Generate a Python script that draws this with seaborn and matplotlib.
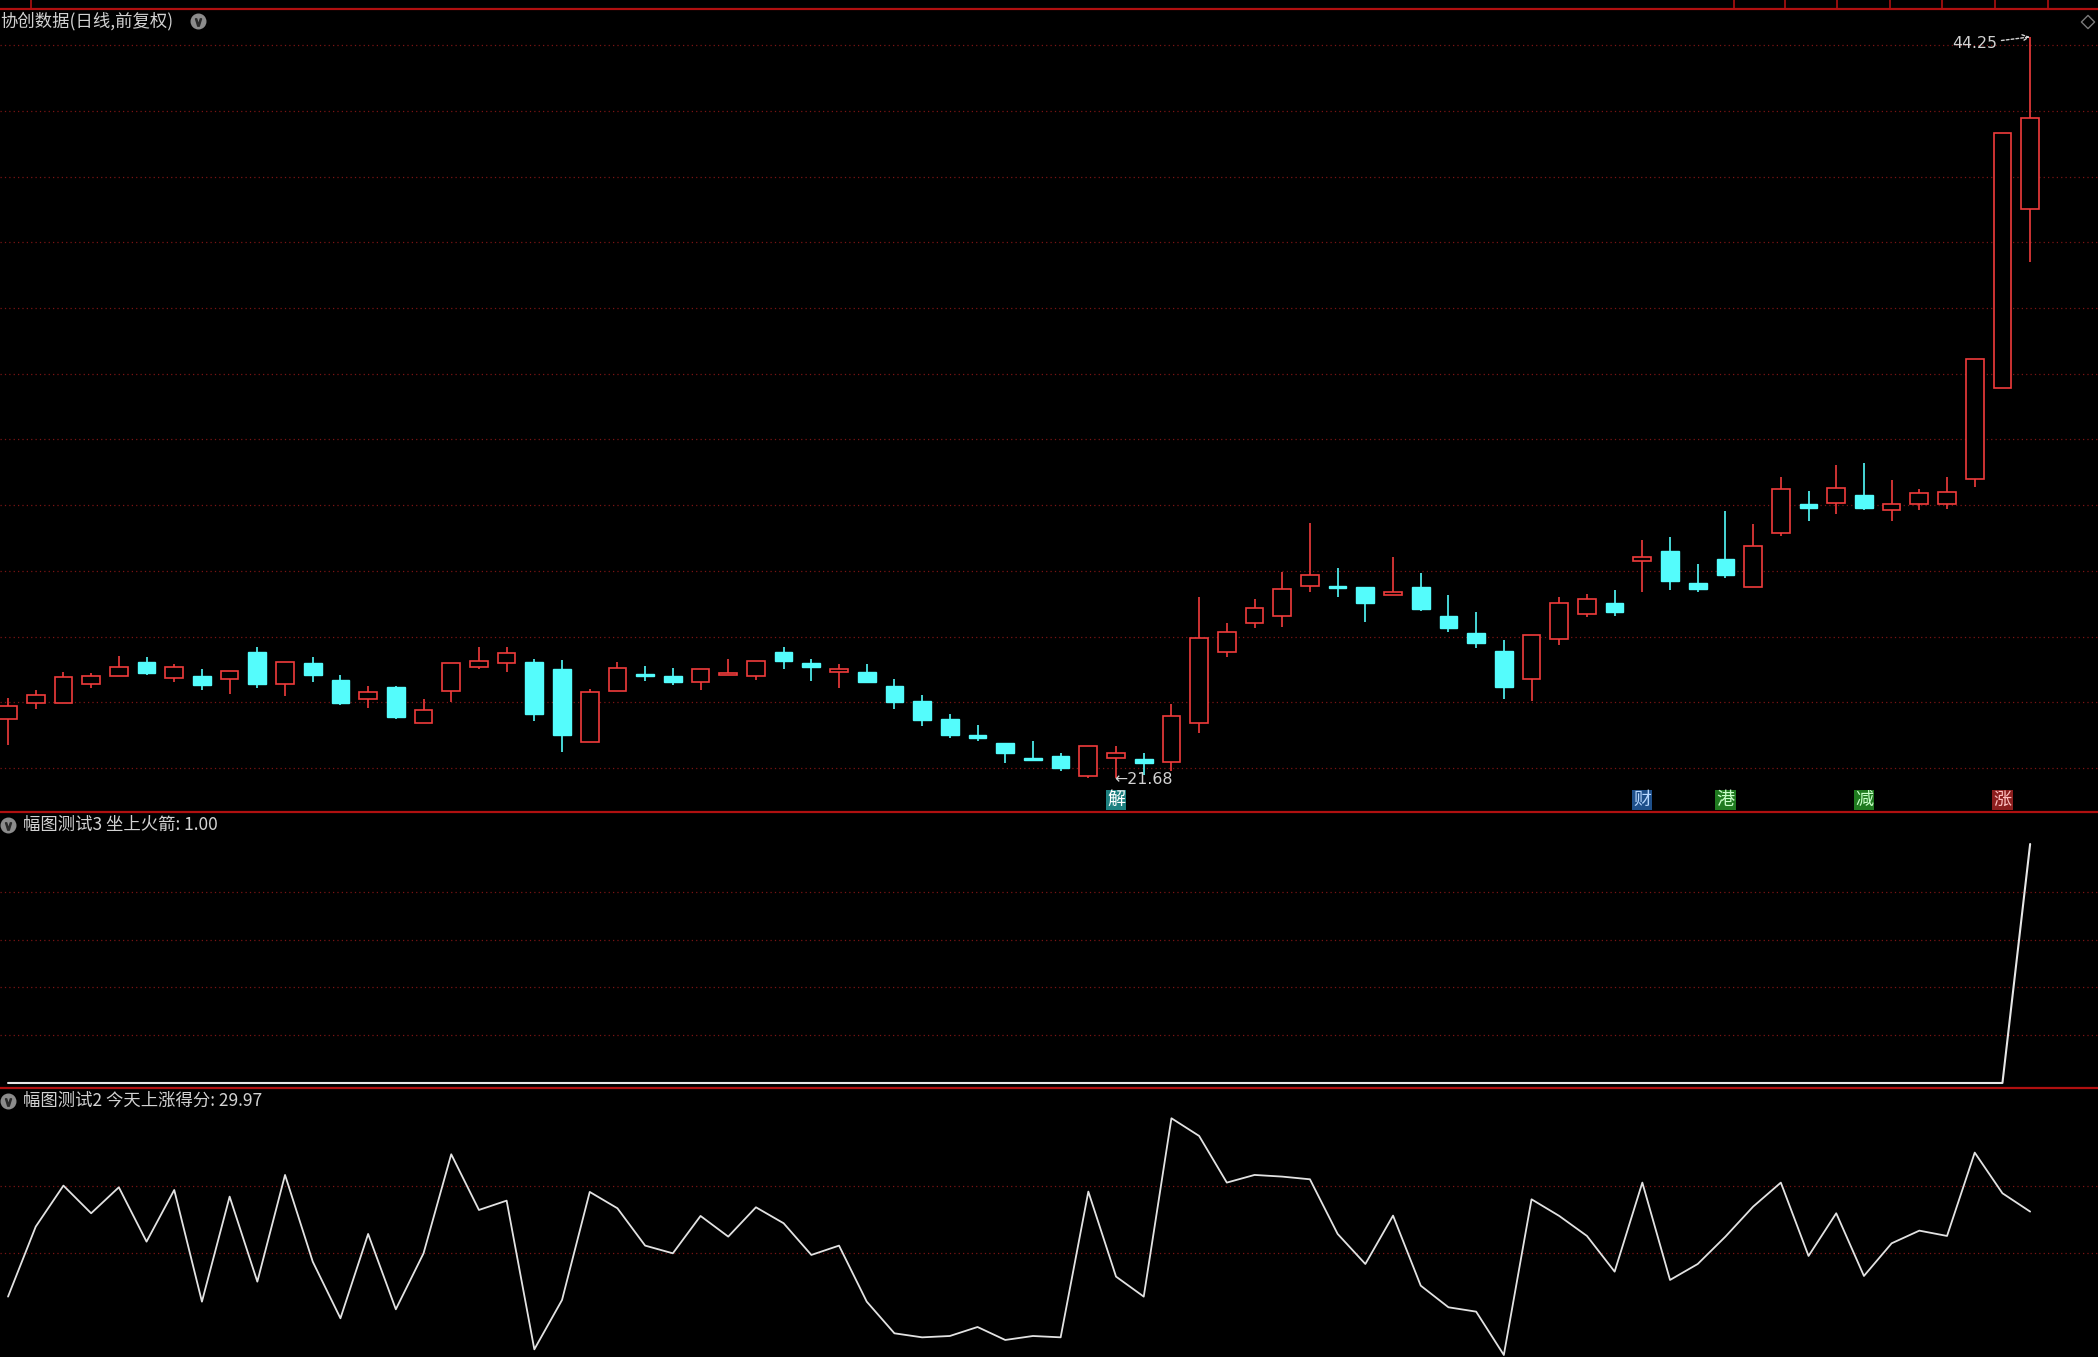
import numpy as np
import pandas as pd
import matplotlib
matplotlib.use("Agg")
import matplotlib.pyplot as plt
import matplotlib.transforms as mtransforms
import seaborn as sns

# ---- data (74 daily bars) ----
opens = [23.48, 23.97, 23.97, 24.57, 24.79, 25.23, 24.74, 24.81, 24.70, 25.54,
         24.57, 25.19, 24.68, 24.11, 24.45, 23.37, 24.34, 25.06, 25.21, 25.23,
         25.00, 22.78, 24.34, 24.86, 24.81, 24.61, 24.84, 24.79, 25.54, 25.18,
         24.93, 24.91, 24.51, 24.05, 23.50, 22.99, 22.77, 22.30, 22.37, 21.76,
         22.30, 22.27, 22.19, 23.38, 25.52, 26.42, 26.63, 27.54, 27.52, 27.52,
         27.26, 27.52, 26.64, 26.10, 25.55, 24.71, 25.93, 26.68, 27.01, 28.31,
         28.61, 27.62, 28.35, 27.51, 29.16, 30.03, 30.07, 30.32, 29.85, 30.03,
         30.02, 30.80, 33.57, 39.00]
closes = [23.90, 24.21, 24.77, 24.81, 25.08, 24.88, 25.08, 24.52, 24.95, 24.56,
          25.23, 24.83, 23.97, 24.31, 23.55, 23.77, 25.18, 25.27, 25.50, 23.64,
          23.00, 24.30, 25.03, 24.79, 24.61, 25.00, 24.90, 25.27, 25.26, 25.07,
          25.00, 24.62, 24.01, 23.47, 23.00, 22.92, 22.46, 22.23, 22.00, 22.67,
          22.46, 22.15, 23.58, 25.96, 26.13, 26.87, 27.46, 27.87, 27.49, 27.02,
          27.37, 26.84, 26.25, 25.80, 24.47, 26.06, 27.01, 27.14, 26.75, 28.43,
          27.69, 27.46, 27.87, 28.76, 30.48, 29.92, 30.52, 29.92, 30.03, 30.36,
          30.40, 34.44, 41.32, 41.78]
highs = [24.12, 24.37, 24.91, 24.88, 25.41, 25.37, 25.16, 25.00, 24.95, 25.69,
         25.23, 25.37, 24.82, 24.51, 24.50, 24.09, 25.18, 25.69, 25.69, 25.32,
         25.28, 24.40, 25.24, 25.09, 25.03, 25.00, 25.33, 25.27, 25.69, 25.32,
         25.15, 25.15, 24.72, 24.22, 23.63, 23.31, 22.77, 22.81, 22.45, 22.67,
         22.67, 22.46, 23.94, 27.20, 26.42, 27.15, 27.97, 29.45, 28.08, 27.52,
         28.43, 27.93, 27.25, 26.74, 25.88, 26.06, 27.20, 27.29, 27.43, 28.94,
         29.03, 28.22, 29.82, 29.42, 30.86, 30.44, 31.22, 31.27, 30.76, 30.50,
         30.86, 34.44, 41.32, 44.25]
lows = [22.70, 23.79, 23.97, 24.43, 24.79, 24.83, 24.61, 24.37, 24.24, 24.43,
        24.20, 24.61, 23.91, 23.82, 23.50, 23.37, 24.01, 25.01, 24.93, 23.43,
        22.50, 22.78, 24.34, 24.65, 24.52, 24.37, 24.84, 24.68, 25.00, 24.65,
        24.43, 24.62, 23.79, 23.27, 22.90, 22.81, 22.16, 22.20, 21.91, 21.70,
        21.68, 21.79, 21.92, 23.06, 25.39, 26.25, 26.28, 27.37, 27.20, 26.45,
        27.26, 26.79, 26.15, 25.64, 24.09, 24.05, 25.74, 26.61, 26.64, 27.37,
        27.41, 27.35, 27.77, 27.51, 29.06, 29.52, 29.73, 29.84, 29.52, 29.84,
        29.88, 30.56, 33.57, 37.40]

# 坐上火箭 indicator
rocket = [0, 0, 0, 0, 0, 0, 0, 0, 0, 0, 0, 0, 0, 0, 0, 0, 0, 0, 0, 0,
          0, 0, 0, 0, 0, 0, 0, 0, 0, 0, 0, 0, 0, 0, 0, 0, 0, 0, 0, 0,
          0, 0, 0, 0, 0, 0, 0, 0, 0, 0, 0, 0, 0, 0, 0, 0, 0, 0, 0, 0,
          0, 0, 0, 0, 0, 0, 0, 0, 0, 0, 0, 0, 0, 1]

# 今天上涨得分 indicator
score = [12.20, 26.83, 35.40, 29.62, 35.05, 23.69, 34.49, 11.15, 33.10, 15.33,
         37.63, 19.51, 7.67, 25.30, 9.55, 21.25, 41.95, 30.31, 32.26, 1.18,
         11.50, 34.08, 30.66, 22.86, 21.25, 29.06, 24.74, 30.87, 27.53, 20.91,
         22.86, 11.15, 4.53, 3.69, 3.97, 5.85, 3.14, 3.97, 3.69, 34.15,
         16.38, 12.20, 49.48, 45.78, 36.03, 37.63, 37.28, 36.72, 25.30, 19.02,
         29.13, 14.49, 9.97, 9.06, 0.00, 32.54, 29.06, 24.88, 17.42, 36.03,
         15.68, 19.02, 24.74, 31.01, 36.03, 20.70, 29.62, 16.52, 23.34, 25.99,
         24.88, 42.30, 33.80, 29.97]

signal_days = [40, 59, 62, 67, 72]
signal_text = ["解", "财", "港", "减", "涨"]

price_grid = [22, 24, 26, 28, 30, 32, 34, 36, 38, 40, 42, 44]
rocket_grid = [0.2, 0.4, 0.6, 0.8]
score_grid = [21.25, 35.40]

# ---- style ----
RED = "#f03c3c"
CYAN = "#54fcfc"
GRID = "#7a1414"
SEP = "#b01010"
TXT = "#d2d2d2"
sig_bg = ["#1d8080", "#1e4f8a", "#1f7a1f", "#1f7a1f", "#8c1e1e"]
sig_fg = ["#ffffff", "#b8d8ff", "#c8ffc8", "#c8ffc8", "#ffc0c0"]

sns.set_theme(style="dark", rc={"axes.facecolor": "black", "figure.facecolor": "black"})
plt.rcParams["font.family"] = ["Noto Sans CJK SC", "DejaVu Sans"]

df = pd.DataFrame({"day": np.arange(len(opens)), "open": opens, "close": closes,
                   "high": highs, "low": lows, "rocket": rocket, "score": score})
df["top"] = df[["open", "close"]].max(axis=1)
df["bot"] = df[["open", "close"]].min(axis=1)
df["body"] = (df["top"] - df["bot"]).clip(lower=0.04)
up = df["close"] >= df["open"]

W, H = 2098, 1357
fig = plt.figure(figsize=(W / 100, H / 100), dpi=100)

def panel(y0, y1):
    return fig.add_axes([0, 1 - y1 / H, 1, (y1 - y0) / H])

ax1 = panel(9, 812)
ax2 = panel(812, 1088)
ax3 = panel(1088, H)
xlim = (-0.29, 75.45)

# main candle panel
for g in price_grid:
    ax1.axhline(g, color=GRID, lw=0.9, ls=(0, (1, 2.5)), zorder=1)
u = df[up]
d = df[~up]
ax1.vlines(df["day"], df["top"], df["high"], color=np.where(up, RED, CYAN), lw=1.2, zorder=2)
ax1.vlines(df["day"], df["low"], df["bot"], color=np.where(up, RED, CYAN), lw=1.2, zorder=2)
ax1.bar(u["day"], u["body"], bottom=u["bot"], width=0.64, facecolor="black",
        edgecolor=RED, linewidth=1.2, zorder=3)
ax1.bar(d["day"], d["body"], bottom=d["bot"], width=0.64, facecolor=CYAN,
        edgecolor=CYAN, linewidth=1.0, zorder=3)
ax1.set_xlim(*xlim)
ax1.set_ylim(20.66, 45.1)
ax1.axis("off")

ax1.annotate("44.25", xy=(73, 44.25), xytext=(-24, -5), textcoords="offset points",
             ha="right", va="center", fontsize=11.3, color=TXT, family="DejaVu Sans",
             arrowprops=dict(arrowstyle="->", color=TXT, lw=1, linestyle=(0, (2, 1.5)),
                             shrinkA=1, shrinkB=0))
ax1.annotate("←21.68", xy=(40, 21.68), xytext=(-1.5, -1), textcoords="offset points",
             ha="left", va="center", fontsize=11.3, color=TXT, family="DejaVu Sans")

blend = mtransforms.blended_transform_factory(ax1.transData, ax1.transAxes)
for day, ch, bg, fg in zip(signal_days, signal_text, sig_bg, sig_fg):
    ax1.text(day, 0.0149, ch, transform=blend, ha="center", va="center", fontsize=13,
             color=fg, zorder=5,
             bbox=dict(boxstyle="square,pad=0.06", fc=bg, ec="none"))

# middle panel (坐上火箭)
for g in rocket_grid:
    ax2.axhline(g, color=GRID, lw=0.9, ls=(0, (1, 2.5)), zorder=1)
sns.lineplot(data=df, x="day", y="rocket", ax=ax2, color="#e6e6e6", linewidth=1.5)
ax2.set_xlim(*xlim)
ax2.set_ylim(-0.021, 1.134)
ax2.axis("off")

# lower panel (今天上涨得分)
for g in score_grid:
    ax3.axhline(g, color=GRID, lw=0.9, ls=(0, (1, 2.5)), zorder=1)
sns.lineplot(data=df, x="day", y="score", ax=ax3, color="#e2e2e2", linewidth=1.3)
ax3.set_xlim(*xlim)
ax3.set_ylim(-0.42, 55.8)
ax3.axis("off")

# overlay: separators, titles, icons
ov = fig.add_axes([0, 0, 1, 1], zorder=10)
ov.set_xlim(0, W)
ov.set_ylim(H, 0)
ov.axis("off")
ov.patch.set_alpha(0)
for y in [9, 812, 1088]:
    ov.plot([0, W], [y, y], color=SEP, lw=1.6)
for x in [31, 1734, 1785, 1837, 1890, 1942, 1995, 2048]:
    ov.plot([x, x], [0, 9], color=SEP, lw=1.2)

ov.text(0, 21, "协创数据(日线,前复权)", ha="left", va="center", fontsize=12.5, color=TXT)
ov.text(23, 825, "幅图测试3 坐上火箭: 1.00", ha="left", va="center", fontsize=12.5, color=TXT)
ov.text(23, 1101, "幅图测试2 今天上涨得分: 29.97", ha="left", va="center", fontsize=12.5, color=TXT)
ov.scatter([198, 8, 8], [21, 825, 1101], s=110, color="#8c8c8c", zorder=11)
ov.scatter([198, 8, 8], [22, 826, 1102], s=28, marker=r"$\vee$", color="#2a2a2a", zorder=12)
ov.scatter([2088], [22], s=45, marker="D", facecolor="none", edgecolor="#7a7a7a", lw=1)

fig.savefig("out.png", dpi=100, facecolor="black")
